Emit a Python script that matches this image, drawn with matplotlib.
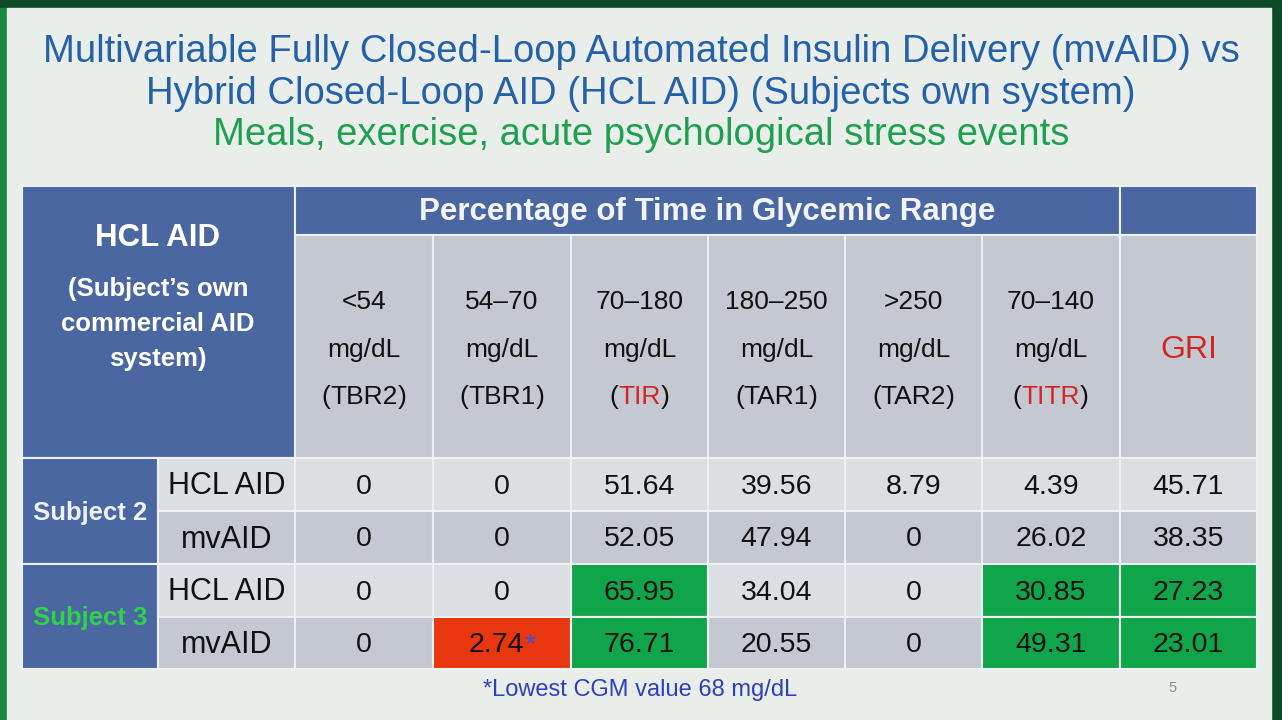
import matplotlib.pyplot as plt
from matplotlib.patches import Rectangle

plt.rcParams["font.family"] = ["Liberation Sans", "DejaVu Sans"]

# table content
title_lines = [
    "Multivariable Fully Closed-Loop Automated Insulin Delivery (mvAID) vs",
    "Hybrid Closed-Loop AID (HCL AID) (Subjects own system)",
]
subtitle = "Meals, exercise, acute psychological stress events"
group_header = "Percentage of Time in Glycemic Range"
corner_title = "HCL AID"
corner_lines = ["(Subject\u2019s own", "commercial AID", "system)"]
col_ranges = ["<54", "54\u201370", "70\u2013180", "180\u2013250", ">250", "70\u2013140"]
col_codes = ["TBR2", "TBR1", "TIR", "TAR1", "TAR2", "TITR"]
red_codes = ["TIR", "TITR"]
last_col = "GRI"
subjects = ["Subject 2", "Subject 3"]
systems = ["HCL AID", "mvAID", "HCL AID", "mvAID"]
values = [
    [0, 0, 51.64, 39.56, 8.79, 4.39, 45.71],
    [0, 0, 52.05, 47.94, 0, 26.02, 38.35],
    [0, 0, 65.95, 34.04, 0, 30.85, 27.23],
    [0, 2.74, 76.71, 20.55, 0, 49.31, 23.01],
]
green_cells = [(2, 2), (2, 5), (2, 6), (3, 2), (3, 5), (3, 6)]
red_cells = [(3, 1)]
starred_cells = [(3, 1)]
footnote = "*Lowest CGM value 68 mg/dL"
page_no = "5"

# colours
BLUE = "#4a67a1"
GRAY = "#c4c8d0"
LIGHT = "#dcdfe1"
GREEN = "#11a54b"
RED = "#e8360e"
LINE = "#eef1f3"
TXT = "#111111"
REDTXT = "#d42424"

fig = plt.figure(figsize=(12.82, 7.2), dpi=100)
fig.patch.set_facecolor("#0c4a2a")
ax = fig.add_axes([0, 0, 1, 1])
ax.set_xlim(0, 1282)
ax.set_ylim(720, 0)
ax.axis("off")

# slide background
ax.add_patch(Rectangle((0, 8), 7, 712, color="#17893e", zorder=0))
ax.add_patch(Rectangle((7, 8), 1264, 712, color="#e9eeea", zorder=0))

# titles
ax.text(641, 52, title_lines[0], ha="center", va="center", fontsize=27.5, color="#2561a8")
ax.text(641, 94, title_lines[1], ha="center", va="center", fontsize=27.5, color="#2561a8")
ax.text(641, 135, subtitle, ha="center", va="center", fontsize=27.5, color="#1ea050")

# layout
x_edges = [22, 158, 295, 433, 571, 708, 845, 982, 1120, 1257]
y_top, y_h1, y_h2 = 186, 235, 458
row_edges = [458, 511, 564, 617, 669]


def cell(x0, x1, y0, y1, color):
    ax.add_patch(Rectangle((x0, y0), x1 - x0, y1 - y0, facecolor=color,
                           edgecolor=LINE, linewidth=1.5, zorder=1))


def pieces(xc, y, parts, size, weight="normal"):
    # draws a line of text made of (string, colour) parts, centred at xc
    r = fig.canvas.get_renderer()
    objs = [ax.text(0, y, s, color=c, fontsize=size, fontweight=weight,
                    ha="left", va="center", zorder=3) for s, c in parts]
    widths = [o.get_window_extent(r).width for o in objs]
    x = xc - sum(widths) / 2
    for o, w in zip(objs, widths):
        o.set_x(x)
        x += w


# header
cell(x_edges[0], x_edges[2], y_top, y_h2, BLUE)
cell(x_edges[2], x_edges[8], y_top, y_h1, BLUE)
cell(x_edges[8], x_edges[9], y_top, y_h1, BLUE)
for i in range(2, 9):
    cell(x_edges[i], x_edges[i + 1], y_h1, y_h2, GRAY)

ax.text(158, 238, corner_title, ha="center", va="center", fontsize=22.5,
        fontweight="bold", color="white", zorder=3)
for k, line in enumerate(corner_lines):
    ax.text(158, 289 + 35 * k, line, ha="center", va="center", fontsize=18.5,
            fontweight="bold", color="white", zorder=3)
ax.text((x_edges[2] + x_edges[8]) / 2, 212, group_header, ha="center", va="center",
        fontsize=22.5, fontweight="bold", color="#f2f4f8", zorder=3)

for j in range(6):
    xc = (x_edges[j + 2] + x_edges[j + 3]) / 2
    ax.text(xc, 302, col_ranges[j], ha="center", va="center", fontsize=19, color=TXT, zorder=3)
    ax.text(xc, 350, "mg/dL", ha="center", va="center", fontsize=19, color=TXT, zorder=3)
    code_color = REDTXT if col_codes[j] in red_codes else TXT
    pieces(xc, 397, [("(", TXT), (col_codes[j], code_color), (")", TXT)], 19)
ax.text((x_edges[8] + x_edges[9]) / 2, 350, last_col, ha="center", va="center",
        fontsize=23, color=REDTXT, zorder=3)

# subject blocks
subject_colors = ["#eef2f8", "#2fd24a"]
for s in range(2):
    y0, y1 = row_edges[2 * s], row_edges[2 * s + 2]
    cell(x_edges[0], x_edges[1], y0, y1, BLUE)
    ax.text((x_edges[0] + x_edges[1]) / 2, (y0 + y1) / 2 + 2, subjects[s], ha="center",
            va="center", fontsize=18.5, fontweight="bold", color=subject_colors[s], zorder=3)

# data rows
for i, row in enumerate(values):
    y0, y1 = row_edges[i], row_edges[i + 1]
    yc = (y0 + y1) / 2 + 2
    base = LIGHT if i % 2 == 0 else GRAY
    cell(x_edges[1], x_edges[2], y0, y1, base)
    ax.text((x_edges[1] + x_edges[2]) / 2, yc, systems[i], ha="center", va="center",
            fontsize=22, color=TXT, zorder=3)
    for j, v in enumerate(row):
        color = base
        if (i, j) in green_cells:
            color = GREEN
        elif (i, j) in red_cells:
            color = RED
        x0, x1 = x_edges[j + 2], x_edges[j + 3]
        cell(x0, x1, y0, y1, color)
        label = "0" if v == 0 else f"{v:.2f}"
        if (i, j) in starred_cells:
            pieces((x0 + x1) / 2, yc, [(label, TXT), ("*", "#3a4fd8")], 20.5)
        else:
            ax.text((x0 + x1) / 2, yc, label, ha="center", va="center", fontsize=20.5,
                    color=TXT, zorder=3)

ax.text(640, 690, footnote, ha="center", va="center", fontsize=17, color="#2a40c0")
ax.text(1173, 688, page_no, ha="center", va="center", fontsize=10.5, color="#8a8f8c")

fig.savefig("out.png", dpi=100, facecolor=fig.get_facecolor())
